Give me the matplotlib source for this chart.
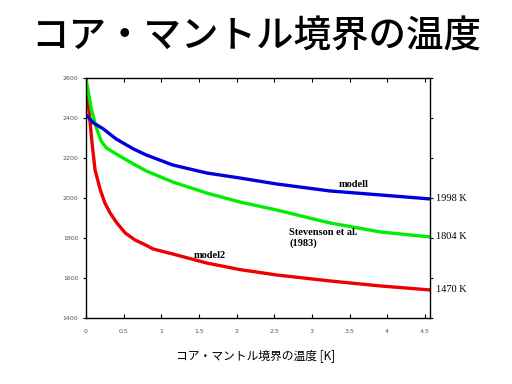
import matplotlib
matplotlib.use("Agg")
import matplotlib.pyplot as plt

# data (x: axis units, y: temperature K)
x_model1 = [0, 0.10, 0.23, 0.40, 0.63, 0.80, 1.15, 1.60, 2.04, 2.53, 3.24, 3.91, 4.57]
t_model1 = [2415, 2375, 2345, 2295, 2245, 2215, 2165, 2125, 2100, 2070, 2035, 2015, 1995]

x_steven = [0, 0.07, 0.13, 0.20, 0.27, 0.40, 0.63, 0.80, 1.15, 1.60, 2.04, 2.53, 3.24, 3.91, 4.57]
t_steven = [2595, 2445, 2360, 2285, 2250, 2220, 2170, 2135, 2080, 2025, 1980, 1940, 1875, 1830, 1805]

x_model2 = [0, 0.01, 0.05, 0.08, 0.12, 0.19, 0.25, 0.32, 0.41, 0.52, 0.65, 0.79, 0.89, 1.15, 1.60, 2.04, 2.53, 3.24, 3.91, 4.57]
t_model2 = [2595, 2545, 2395, 2275, 2140, 2040, 1975, 1925, 1875, 1825, 1790, 1765, 1745, 1720, 1675, 1642, 1615, 1585, 1560, 1540]

xticks = [0, 0.5, 1, 1.5, 2, 2.5, 3, 3.5, 4, 4.5]
yticks = [1400, 1600, 1800, 2000, 2200, 2400, 2600]
end_labels = ["1998 K", "1804 K", "1470 K"]

jp = ["Noto Sans CJK JP", "DejaVu Sans"]

fig = plt.figure(figsize=(5.12, 3.84), dpi=100)
ax = fig.add_axes([0.168, 0.172, 0.672, 0.625])

ax.plot(x_model2, t_model2, color="#ee0000", lw=2.4)
ax.plot(x_steven, t_steven, color="#00ee00", lw=2.4)
ax.plot(x_model1, t_model1, color="#0000dd", lw=2.4)

ax.set_xlim(0, 4.57)
ax.set_ylim(1400, 2600)
ax.set_xticks(xticks)
ax.set_yticks(yticks)
ax.set_xticklabels([str(v) for v in xticks])
ax.set_yticklabels([str(v) for v in yticks])
ax.tick_params(axis="x", direction="in", top=True, labelsize=4.5, labelcolor="#555555", length=3, pad=8)
ax.tick_params(axis="y", direction="out", labelsize=4.5, labelcolor="#555555", length=2)
ax.tick_params(axis="y", which="both", right=True)
for s in ax.spines.values():
    s.set_linewidth(1.0)

serif = "Liberation Serif"
ax.text(3.55, 2065, "modell", family=serif, weight="bold", fontsize=7.5, ha="center", va="center")
ax.text(2.7, 1800, "Stevenson et al.\n(1983)", family=serif, weight="bold", fontsize=7.5,
        ha="left", va="center", linespacing=1.3)
ax.text(1.65, 1710, "model2", family=serif, weight="bold", fontsize=7.5, ha="center", va="center")

for lab, t in zip(end_labels, [t_model1[-1], t_steven[-1], t_model2[-1]]):
    ax.annotate(lab, xy=(1.0, t), xycoords=("axes fraction", "data"), xytext=(4, 0),
                textcoords="offset points", family=serif, fontsize=7.5, va="center", ha="left")

fig.text(0.5, 0.905, "コア・マントル境界の温度", family=jp, weight="medium", fontsize=27, ha="center", va="center")
fig.text(0.5, 0.075, "コア・マントル境界の温度 [K]", family=jp, fontsize=8.5, ha="center", va="center")

fig.savefig("out.png", dpi=100)
